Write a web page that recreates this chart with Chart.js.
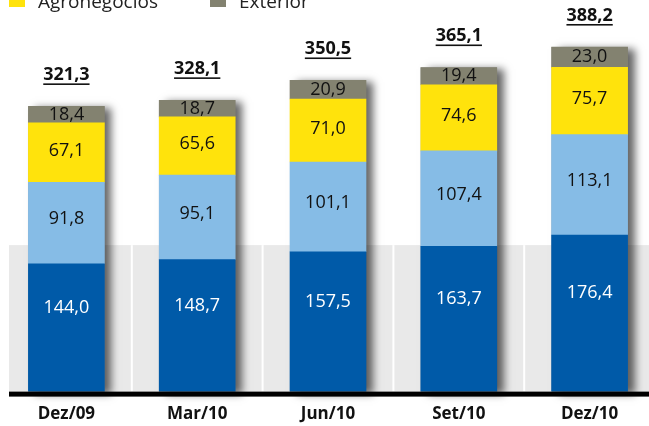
<!DOCTYPE html>
<html><head><meta charset="utf-8">
<script src="https://cdn.jsdelivr.net/npm/chart.js@4"></script>
<style>html,body{margin:0;padding:0;background:#fff;overflow:hidden;width:649px;height:426px}canvas{display:block}</style>
</head><body><canvas id="c" width="656" height="426"></canvas>
<script>
const categories = ['Dez/09', 'Mar/10', 'Jun/10', 'Set/10', 'Dez/10'];
const pessoaJuridica = [144.0, 148.7, 157.5, 163.7, 176.4];
const pessoaFisica = [91.8, 95.1, 101.1, 107.4, 113.1];
const agronegocios = [67.1, 65.6, 71.0, 74.6, 75.7];
const exterior = [18.4, 18.7, 20.9, 19.4, 23.0];
const totals = [321.3, 328.1, 350.5, 365.1, 388.2];
const seriesNames = ['Pessoa Jurídica', 'Pessoa Física', 'Agronegócios', 'Exterior'];

const FONT = '"Open Sans", "Noto Sans", sans-serif';
const COLORS = ['#005aa8', '#86bce6', '#ffe30c', '#838270'];
const LABEL_COLORS = ['#ffffff', '#111111', '#111111', '#111111'];
const LABEL_OFFSETS = [-20, -4, -2, 0];
const BAND_TOP = 165;
const fmt = v => v.toFixed(1).replace('.', ',');

const decor = {
  id: 'decor',
  beforeDatasetsDraw(chart) {
    const { ctx, chartArea: a, scales: { x, y } } = chart;
    ctx.save();
    const top = y.getPixelForValue(BAND_TOP);
    ctx.fillStyle = '#e9e9e9';
    ctx.fillRect(9, top, chart.width - 9, a.bottom - top);
    ctx.fillStyle = '#ffffff';
    for (let i = 0; i < categories.length - 1; i++) {
      const m = (x.getPixelForValue(i) + x.getPixelForValue(i + 1)) / 2;
      ctx.fillRect(m - 1, top, 2, a.bottom - top);
    }
    const metaTop = chart.getDatasetMeta(chart.data.datasets.length - 1);
    metaTop.data.forEach(bar => {
      const p = bar.getProps(['x', 'y', 'width'], true);
      ctx.save();
      ctx.shadowColor = 'rgba(0,0,0,0.6)';
      ctx.shadowBlur = 8;
      ctx.shadowOffsetX = 7;
      ctx.shadowOffsetY = 2;
      ctx.fillStyle = '#888';
      ctx.fillRect(p.x - p.width / 2, p.y, p.width, a.bottom - p.y);
      ctx.restore();
    });
    ctx.restore();
  },
  afterDatasetsDraw(chart) {
    const { ctx, chartArea: a } = chart;
    ctx.save();
    ctx.fillStyle = '#000';
    ctx.fillRect(9, a.bottom, chart.width - 9, 5);
    ctx.textAlign = 'center';
    ctx.textBaseline = 'middle';
    ctx.font = '18px ' + FONT;
    chart.data.datasets.forEach((ds, di) => {
      const meta = chart.getDatasetMeta(di);
      meta.data.forEach((bar, i) => {
        const p = bar.getProps(['x', 'y', 'base'], true);
        ctx.fillStyle = LABEL_COLORS[di];
        ctx.fillText(fmt(ds.data[i]), p.x, (p.y + p.base) / 2 + LABEL_OFFSETS[di]);
      });
    });
    const metaTop = chart.getDatasetMeta(chart.data.datasets.length - 1);
    ctx.font = 'bold 18px ' + FONT;
    ctx.textBaseline = 'alphabetic';
    metaTop.data.forEach((bar, i) => {
      const p = bar.getProps(['x', 'y'], true);
      const t = fmt(totals[i]);
      const by = p.y - 26;
      ctx.fillStyle = '#111';
      ctx.fillText(t, p.x, by);
      const w = ctx.measureText(t).width;
      ctx.fillRect(p.x - w / 2, by + 3, w, 1.6);
    });
    const legendX = [9, 210];
    ctx.font = '19px ' + FONT;
    ctx.textAlign = 'left';
    [2, 3].forEach((di, k) => {
      const ds = chart.data.datasets[di];
      ctx.fillStyle = ds.backgroundColor;
      ctx.fillRect(legendX[k], -9, 16, 16);
      ctx.fillStyle = '#222';
      ctx.fillText(ds.label, legendX[k] + 29, 8);
    });
    ctx.restore();
  }
};

const seriesData = [pessoaJuridica, pessoaFisica, agronegocios, exterior];
new Chart(document.getElementById('c'), {
  type: 'bar',
  data: {
    labels: categories,
    datasets: seriesData.map((d, i) => ({
      label: seriesNames[i],
      data: d,
      backgroundColor: COLORS[i],
      borderWidth: 0,
      barThickness: 76
    }))
  },
  options: {
    responsive: false,
    devicePixelRatio: 1,
    animation: false,
    layout: { padding: { left: 1, right: 1, top: 1, bottom: -10 } },
    plugins: { legend: { display: false }, tooltip: { enabled: false } },
    scales: {
      x: {
        stacked: true,
        grid: { display: false, drawTicks: false },
        border: { display: false },
        ticks: { color: '#111', padding: 12, font: { family: FONT, size: 17, weight: 'bold' } }
      },
      y: { stacked: true, display: false, min: 0, max: 440 }
    }
  },
  plugins: [decor]
});
</script>
</body></html>
